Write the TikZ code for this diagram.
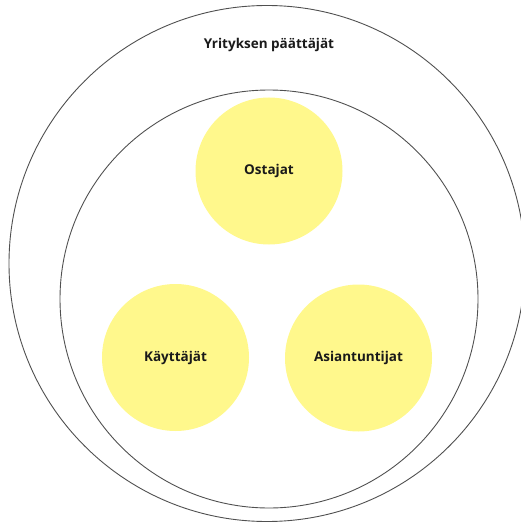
\documentclass[tikz,border=0pt]{standalone}
\usepackage{fontspec}
\setmainfont{Open Sans}
\definecolor{ringline}{HTML}{505050}
\definecolor{groupfill}{HTML}{FFF88C}
\definecolor{labeltext}{HTML}{1A1A1A}
\begin{document}
\begin{tikzpicture}[x=1pt, y=-1pt,
  ring/.style={circle, draw=ringline, line width=0.9pt, inner sep=0pt},
  group/.style={circle, fill=groupfill, draw=none, minimum size=147pt, inner sep=0pt,
    font=\fontsize{13.5}{16}\selectfont\bfseries, text=labeltext},
  title/.style={font=\fontsize{13.5}{16}\selectfont\bfseries, text=labeltext}]
  \useasboundingbox (0,0) rectangle (521,524);
  % decision makers and the inner organisation
  \node[ring, minimum size=516pt] (outer) at (267,263.5) {};
  \node[ring, minimum size=418pt] (inner) at (269,299) {};
  \node[title] (outerlabel) at (269,45) {Yrityksen päättäjät};
  % the three groups
  \node[group] (buyers) at (269,171) {Ostajat};
  \node[group] (users) at (175.5,357.5) {Käyttäjät};
  \node[group] (experts) at (358.5,358) {Asiantuntijat};
\end{tikzpicture}
\end{document}
